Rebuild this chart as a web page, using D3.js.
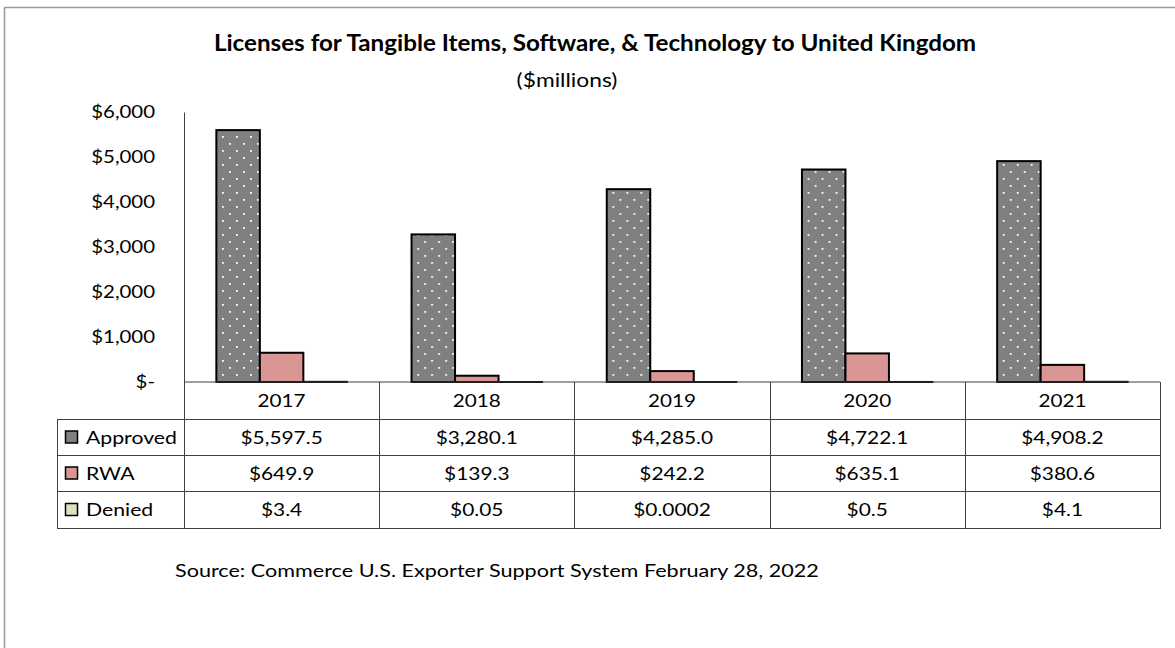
<!DOCTYPE html>
<html>
<head>
<meta charset="utf-8">
<script src="https://cdn.jsdelivr.net/npm/d3@7/dist/d3.min.js"></script>
<style>
  html, body { margin: 0; padding: 0; background: #fff; }
  svg { display: block; }
  text { font-family: Lato, "Liberation Sans", sans-serif; fill: #000; }
</style>
</head>
<body>
<svg id="chart" width="1175" height="648"></svg>
<script>
// ---- data ----
const years = ["2017", "2018", "2019", "2020", "2021"];
const seriesNames = ["Approved", "RWA", "Denied"];
const approved = [5597.5, 3280.1, 4285.0, 4722.1, 4908.2];
const rwa = [649.9, 139.3, 242.2, 635.1, 380.6];
const denied = [3.4, 0.05, 0.0002, 0.5, 4.1];
const yTicks = [0, 1000, 2000, 3000, 4000, 5000, 6000];
const titleText = "Licenses for Tangible Items, Software, & Technology to United Kingdom";
const subtitleText = "($millions)";
const sourceText = "Source: Commerce U.S. Exporter Support System February 28, 2022";

const seriesValues = [approved, rwa, denied];
const seriesFill = ["url(#dots)", "#d99694", "#d7e4bd"];

const svg = d3.select("#chart");
const SX = 1.18; // horizontal stretch of the reference lettering

function stext(parent, x, y, str, size, anchor, sx, weight, fill) {
  return parent.append("text")
    .attr("transform", `translate(${x},${y}) scale(${sx},1)`)
    .attr("text-anchor", anchor)
    .style("font-size", size + "px")
    .style("font-weight", weight || "normal")
    .attr("fill", fill || "#000")
    .text(str);
}

// pattern for Approved
const defs = svg.append("defs");
const pat = defs.append("pattern").attr("id", "dots")
  .attr("patternUnits", "userSpaceOnUse").attr("width", 14).attr("height", 14);
pat.append("rect").attr("width", 14).attr("height", 14).attr("fill", "#808080");
pat.append("rect").attr("x", 3).attr("y", 3).attr("width", 1.8).attr("height", 1.8).attr("fill", "#fff");
pat.append("rect").attr("x", 10).attr("y", 10).attr("width", 1.8).attr("height", 1.8).attr("fill", "#fff");

// outer frame
svg.append("line").attr("x1", 4.5).attr("x2", 4.5).attr("y1", 7.5).attr("y2", 648)
  .attr("stroke", "#999").attr("stroke-width", 1.5);
svg.append("line").attr("x1", 4).attr("x2", 1175).attr("y1", 7.5).attr("y2", 7.5)
  .attr("stroke", "#999").attr("stroke-width", 1.5);

// titles
stext(svg, 595, 51, titleText, 22, "middle", 1.1, "bold");
stext(svg, 567, 87, subtitleText, 19, "middle", 1.2);

// scales
const plotLeft = 184, plotRight = 1160, plotTop = 112, plotBottom = 382;
const x0 = d3.scaleBand().domain(years).range([plotLeft, plotRight]).paddingInner(0).paddingOuter(0);
const x1 = d3.scaleBand().domain(seriesNames).range([0, x0.bandwidth()]).paddingInner(0).paddingOuter(0.744);
const y = d3.scaleLinear().domain([0, 6000]).range([plotBottom, plotTop]);

// y axis
const pad = 29;
const yAxis = d3.axisLeft(y).tickValues(yTicks).tickSize(0).tickPadding(pad)
  .tickFormat(d => d === 0 ? "$-" : "$" + d3.format(",")(d));
const gy = svg.append("g").attr("transform", `translate(${plotLeft},0)`).call(yAxis);
gy.select(".domain").attr("stroke", "#404040").attr("stroke-width", 1);
gy.selectAll(".tick text")
  .attr("x", -pad / 1.2)
  .attr("transform", "scale(1.2,1)")
  .style("font-size", "17px")
  .style("font-family", "Lato, 'Liberation Sans', sans-serif")
  .attr("fill", "#000");

// bars
const groups = svg.append("g").selectAll("g").data(years).join("g")
  .attr("transform", d => `translate(${x0(d)},0)`);
groups.selectAll("rect").data((d, i) => seriesNames.map((s, k) => ({ s, k, v: seriesValues[k][i] })))
  .join("rect")
  .attr("x", d => x1(d.s))
  .attr("y", d => y(d.v))
  .attr("width", x1.bandwidth())
  .attr("height", d => Math.max(0, y(0) - y(d.v)))
  .attr("fill", d => seriesFill[d.k])
  .attr("stroke", "#000").attr("stroke-width", 2);

// data table
const tableLeft = 57;
const rowEdges = [382, 419, 455, 491, 528];
const lineColor = "#404040";
const tbl = svg.append("g");
tbl.append("line").attr("x1", plotLeft).attr("x2", plotRight).attr("y1", rowEdges[0]).attr("y2", rowEdges[0])
  .attr("stroke", lineColor);
rowEdges.slice(1).forEach(r => {
  tbl.append("line").attr("x1", tableLeft).attr("x2", plotRight + 1).attr("y1", r + 0.5).attr("y2", r + 0.5)
    .attr("stroke", lineColor);
});
tbl.append("line").attr("x1", tableLeft + 0.5).attr("x2", tableLeft + 0.5).attr("y1", rowEdges[1]).attr("y2", rowEdges[4] + 1)
  .attr("stroke", lineColor);
years.forEach(yr => {
  const xv = Math.round(x0(yr)) + 0.5;
  tbl.append("line").attr("x1", xv).attr("x2", xv).attr("y1", rowEdges[0]).attr("y2", rowEdges[4] + 1)
    .attr("stroke", lineColor);
});
tbl.append("line").attr("x1", plotRight + 0.5).attr("x2", plotRight + 0.5).attr("y1", rowEdges[0]).attr("y2", rowEdges[4] + 1)
  .attr("stroke", lineColor);

// header year labels
years.forEach(yr => {
  stext(tbl, x0(yr) + x0.bandwidth() / 2, (rowEdges[0] + rowEdges[1]) / 2 + 6.5, yr, 18, "middle", 1.15);
});

function fmt(v) {
  if (v >= 1000) return "$" + d3.format(",.1f")(v);
  if (v < 0.1) return "$" + String(v);
  return "$" + d3.format(".1f")(v);
}

seriesNames.forEach((s, k) => {
  const cy = (rowEdges[k + 1] + rowEdges[k + 2]) / 2;
  tbl.append("rect").attr("x", 65.5).attr("y", cy - 6).attr("width", 12).attr("height", 12)
    .attr("fill", k === 0 ? "#808080" : seriesFill[k]).attr("stroke", "#000").attr("stroke-width", 1.5);
  stext(tbl, 86, cy + 6.5, s, 18, "start", SX);
  years.forEach((yr, i) => {
    stext(tbl, x0(yr) + x0.bandwidth() / 2, cy + 6.5, fmt(seriesValues[k][i]), 18, "middle", 1.16);
  });
});

// source
stext(svg, 175, 577, sourceText, 18, "start", 1.2, "normal", "#262626");
</script>
</body>
</html>
